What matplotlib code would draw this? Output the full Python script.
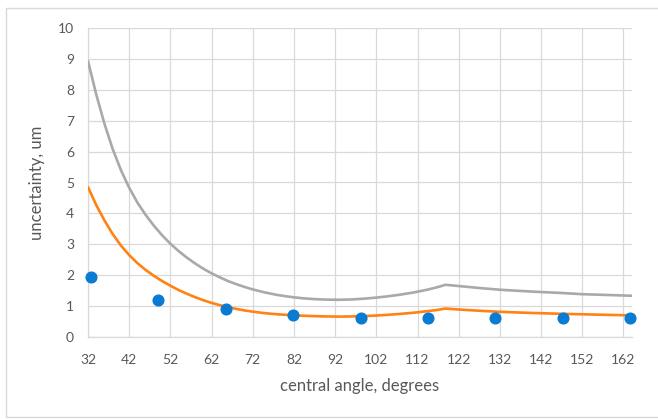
import matplotlib
matplotlib.use("Agg")
import matplotlib.pyplot as plt
from matplotlib.patches import Rectangle

# Data
gray_x = [32, 34, 36, 38, 40, 42, 44, 46, 48, 50, 52, 54, 56, 58, 60, 62, 64, 66, 68, 70, 72,
          75, 78, 81, 84, 87, 90, 93, 96, 99, 102, 105, 108, 111, 114, 116.5, 118.8,
          122, 127, 132, 137, 142, 147, 152, 157, 164]
gray_y = [8.93, 7.85, 6.9, 6.08, 5.4, 4.83, 4.35, 3.95, 3.6, 3.29, 3.02, 2.78, 2.57, 2.38, 2.21,
          2.06, 1.93, 1.81, 1.71, 1.62, 1.54, 1.44, 1.36, 1.30, 1.255, 1.225, 1.21, 1.205,
          1.215, 1.24, 1.275, 1.32, 1.375, 1.44, 1.52, 1.6, 1.69,
          1.65, 1.585, 1.53, 1.49, 1.455, 1.425, 1.385, 1.365, 1.335]

orange_x = [32, 34, 36, 38, 40, 42, 44, 46, 48, 50, 52, 54, 56, 58, 60, 62, 64, 66, 68, 70, 72,
            75, 78, 81, 84, 87, 90, 93, 96, 99, 102, 105, 108, 111, 114, 116.5, 118.8,
            122, 127, 132, 137, 142, 147, 152, 157, 164]
orange_y = [4.85, 4.27, 3.77, 3.33, 2.96, 2.65, 2.39, 2.17, 1.98, 1.81, 1.66, 1.52, 1.40, 1.29,
            1.19, 1.105, 1.03, 0.965, 0.91, 0.86, 0.82, 0.77, 0.735, 0.71, 0.69, 0.675, 0.665,
            0.66, 0.665, 0.675, 0.695, 0.72, 0.75, 0.785, 0.83, 0.87, 0.92,
            0.89, 0.85, 0.815, 0.79, 0.77, 0.75, 0.735, 0.72, 0.70]

blue_x = [32.7, 49.1, 65.5, 81.8, 98.2, 114.5, 130.9, 147.3, 163.6]
blue_y = [1.93, 1.2, 0.91, 0.70, 0.62, 0.62, 0.62, 0.62, 0.62]

x_ticks = [32, 42, 52, 62, 72, 82, 92, 102, 112, 122, 132, 142, 152, 162]
y_ticks = [0, 1, 2, 3, 4, 5, 6, 7, 8, 9, 10]

plt.rcParams['font.family'] = ['Lato', 'DejaVu Sans']
W, H = 658, 419
fig = plt.figure(figsize=(W / 100, H / 100), dpi=100)
fig.patch.set_facecolor('white')

# outer chart border
fig.patches.append(Rectangle((6 / W, 1 - 417 / H), (W + 5 - 6) / W, (417 - 8) / H,
                             transform=fig.transFigure, fill=False,
                             edgecolor='#d9d9d9', linewidth=1.0))

left, right, top, bottom = 88, 631.7, 28, 337
ax = fig.add_axes([left / W, 1 - bottom / H, (right - left) / W, (bottom - top) / H])

ax.plot(gray_x, gray_y, color='#a9a9a9', linewidth=1.9, solid_joinstyle='round',
        solid_capstyle='round', zorder=3)
ax.plot(orange_x, orange_y, color='#ff8213', linewidth=1.9, solid_joinstyle='round',
        solid_capstyle='round', zorder=4)
ax.plot(blue_x, blue_y, linestyle='none', marker='o', markersize=7.7,
        color='#0a7bd2', zorder=5, clip_on=False)

ax.set_xlim(32, 164)
ax.set_ylim(0, 10)
ax.set_xticks(x_ticks)
ax.set_yticks(y_ticks)
ax.grid(True, color='#d9d9d9', linewidth=0.9)
ax.set_axisbelow(True)
for s in ['top', 'right']:
    ax.spines[s].set_visible(False)
for s in ['left', 'bottom']:
    ax.spines[s].set_color('#d9d9d9')
    ax.spines[s].set_linewidth(0.9)
ax.tick_params(axis='both', length=0, labelsize=10, labelcolor='#595959')
ax.tick_params(axis='x', pad=12)
ax.tick_params(axis='y', pad=10)

ax.set_xlabel('central angle, degrees', fontsize=12, color='#595959', labelpad=9)
ax.set_ylabel('uncertainty, um', fontsize=12, color='#595959', labelpad=9)

fig.savefig('out.png', dpi=100, facecolor='white')
